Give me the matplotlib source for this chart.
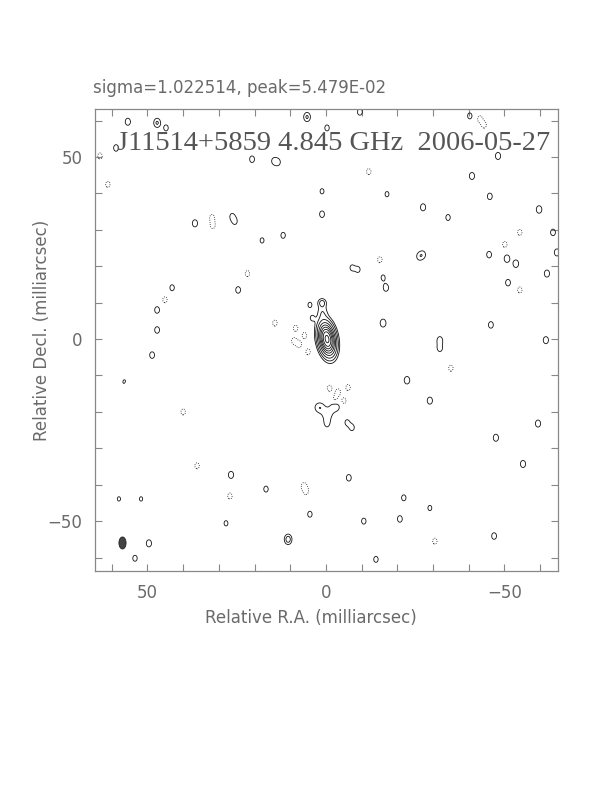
import numpy as np
import matplotlib
matplotlib.use("Agg")
import matplotlib.pyplot as plt
from matplotlib.patches import Ellipse

title = "sigma=1.022514, peak=5.479E-02"
label = "J11514+5859 4.845 GHz  2006-05-27"

# contour levels in units of the lowest level (negative one drawn dotted)
levels = [-1, 1, 2, 4, 8, 16, 32, 64, 128, 256]

# source model: position (mas), peak, gaussian sigma along / across PA (mas), PA (deg)
comp_ra = [-0.3, -0.3, 1.0, 1.1, 1.8, -2.6, -0.4, -0.3]
comp_dec = [0.0, 0.0, 7.5, 10.0, -18.8, -18.5, -20.5, -23.0]
comp_peak = [300.0, 30.0, 1.6, 2.4, 1.9, 1.9, 1.6, 1.5]
comp_maj = [1.4, 2.6, 1.5, 0.8, 1.1, 1.1, 1.2, 1.2]
comp_min = [0.7, 1.3, 1.0, 0.8, 1.1, 1.1, 1.2, 0.8]
comp_pa = [10, 10, 0, 0, 0, 0, 0, 0]

# noise islands above +1 level (mas)
pos_ra = [55.5, 47.3, 44.8, 58.8, 20.7, 14.6, 13.4, 5.3, -0.3, -9.5, -40.3, -48.2,
          -40.9, -17.1, -27.2, -45.9, -59.7, -34.2, -63.6, -26.1, -27.2, -45.7,
          -64.7, -16.0, -61.9, -51.0, -50.7, -53.2, 26.3, 25.5, 36.7, 12.0, 1.1,
          1.1, 17.9, 24.6, 43.1, 47.3, 47.3, -7.3, -9.0, -16.8, -16.0, -31.9,
          -31.9, -46.2, -61.6, -22.7, -29.1, -47.6, -55.2, -59.4, 56.3, 48.7,
          26.6, 16.8, -6.4, 10.6, -20.7, -10.6, -21.8, -29.1, -47.1, 49.6, 53.5,
          58.0, 51.8, 28.0, -14.0, -5.9, 4.5, 3.9, 4.5, -7.3]
pos_dec = [59.7, 59.4, 58.0, 52.5, 49.4, 48.9, 48.6, 61.0, 58.0, 62.4, 61.3, 50.3,
           44.8, 39.8, 36.2, 39.2, 35.6, 33.4, 29.3, 22.7, 23.2, 23.2,
           23.8, 16.9, 18.0, 15.5, 22.1, 20.7, 33.7, 32.3, 31.8, 28.5, 40.6,
           34.3, 27.1, 13.5, 14.1, 8.0, 2.5, 19.6, 19.1, 14.1, 4.4, -0.3,
           -2.5, 3.9, -0.3, -11.3, -16.9, -27.1, -34.3, -23.2, -11.9, -4.4,
           -37.3, -41.2, -38.1, -55.0, -49.4, -50.0, -43.6, -46.4, -54.1, -56.1, -60.2,
           -43.9, -43.9, -50.6, -60.5, -22.9, -48.1, 5.8, 9.4, -24.3]
pos_peak = [1.6, 2.2, 1.4, 1.5, 1.5, 1.3, 1.3, 2.2, 1.4, 1.5, 1.4, 1.6,
            1.6, 1.3, 1.6, 1.5, 1.7, 1.4, 1.5, 1.4, 1.4, 1.5,
            1.6, 1.3, 1.6, 1.5, 1.7, 1.7, 1.3, 1.3, 1.6, 1.4, 1.3,
            1.5, 1.3, 1.5, 1.4, 1.5, 1.5, 1.3, 1.3, 1.6, 1.8, 1.6,
            1.5, 1.5, 1.6, 1.7, 1.6, 1.6, 1.6, 1.6, 1.6, 1.5,
            1.6, 1.4, 1.5, 2.8, 1.5, 1.4, 1.4, 1.3, 1.5, 1.6, 1.4,
            1.2, 1.2, 1.3, 1.4, 1.3, 1.4, 1.2, 1.3, 1.4]

# noise islands below -1 level (mas)
neg_ra = [8.5, 6.0, 7.5, 5.0, 9.0, 14.3, -1.0, -3.4, -6.2, -2.5, -5.0, 61.1,
          63.3, 31.9, 31.7, 45.1, 6.2, 5.6, -43.1, -44.3, -50.1, -54.3, 26.9,
          36.1, -30.5, 55.5, -15.1, -54.3, -12.0, 22.0, -35.0, 40.0]
neg_dec = [3.0, 1.0, -1.5, -3.5, -0.5, 4.4, -13.5, -14.5, -13.3, -16.6, -17.0, 42.5,
           50.3, 33.4, 31.2, 10.8, -40.3, -41.8, 60.5, 58.8, 26.0, 13.5, -43.1,
           -34.8, -55.5, -12.7, 21.8, 29.3, 46.0, 18.0, -8.0, -20.0]

# restoring beam (mas)
beam_ra, beam_dec = 57.0, -56.0
beam_maj, beam_min, beam_pa = 3.3, 2.0, 0.0

noise_maj, noise_min = 1.0, 0.75


def gauss(RA, DEC, x0, y0, amp, smaj, smin, pa):
    t = np.radians(pa)
    dx = RA - x0
    dy = DEC - y0
    u = dx * np.sin(t) + dy * np.cos(t)
    v = dx * np.cos(t) - dy * np.sin(t)
    return amp * np.exp(-(u**2 / (2 * smaj**2) + v**2 / (2 * smin**2)))


def main():
    ra = np.linspace(66, -66, 661)
    dec = np.linspace(-66, 66, 661)
    RA, DEC = np.meshgrid(ra, dec)

    img = np.zeros_like(RA)
    for i in range(len(comp_ra)):
        img += gauss(RA, DEC, comp_ra[i], comp_dec[i], comp_peak[i],
                     comp_maj[i], comp_min[i], comp_pa[i])
    for i in range(len(pos_ra)):
        img += gauss(RA, DEC, pos_ra[i], pos_dec[i], pos_peak[i], noise_maj, noise_min, 0)
    for i in range(len(neg_ra)):
        img += gauss(RA, DEC, neg_ra[i], neg_dec[i], -1.4, noise_maj, noise_min, 0)

    fig = plt.figure(figsize=(6.12, 7.92), dpi=100)
    ax = fig.add_axes([95 / 612, 1 - 571 / 792, 463 / 612, 462 / 792])

    styles = ["dotted" if l < 0 else "solid" for l in levels]
    ax.contour(RA, DEC, img, levels=levels, colors="#111111",
               linewidths=0.6, linestyles=styles)

    ax.add_patch(Ellipse((beam_ra, beam_dec), beam_min, beam_maj, angle=beam_pa,
                         facecolor="#444444", edgecolor="#222222", lw=0.6))

    ax.set_xlim(64.7, -65.0)
    ax.set_ylim(-63.7, 63.2)

    gray = "#6a6a6a"
    ticks = np.arange(-60, 61, 10)
    ticklabels = [str(t) if t % 50 == 0 else "" for t in ticks]
    ticklabels = [s.replace("-", "\u2212") for s in ticklabels]
    ax.set_xticks(ticks)
    ax.set_xticklabels(ticklabels)
    ax.set_yticks(ticks)
    ax.set_yticklabels(ticklabels)
    ax.tick_params(direction="in", length=5, width=0.8, color="#888888",
                   top=True, right=True, labelsize=12, labelcolor=gray, pad=9)
    for s in ax.spines.values():
        s.set_color("#888888")
        s.set_linewidth(0.9)

    fig.text(311 / 612, 1 - 618 / 792, "Relative R.A. (milliarcsec)",
             ha="center", va="center", fontsize=12, color=gray)
    fig.text(42 / 612, 1 - 330 / 792, "Relative Decl. (milliarcsec)",
             ha="center", va="center", rotation=90, fontsize=12, color=gray)
    fig.text(93 / 612, 1 - 88 / 792, title, ha="left", va="center",
             fontsize=12, color=gray)
    ax.text(0.516, 0.926, label, transform=ax.transAxes, ha="center", va="center",
            fontsize=20.5, color="#555555", family="Liberation Serif")

    fig.savefig("out.png", dpi=100)


if __name__ == "__main__":
    main()
